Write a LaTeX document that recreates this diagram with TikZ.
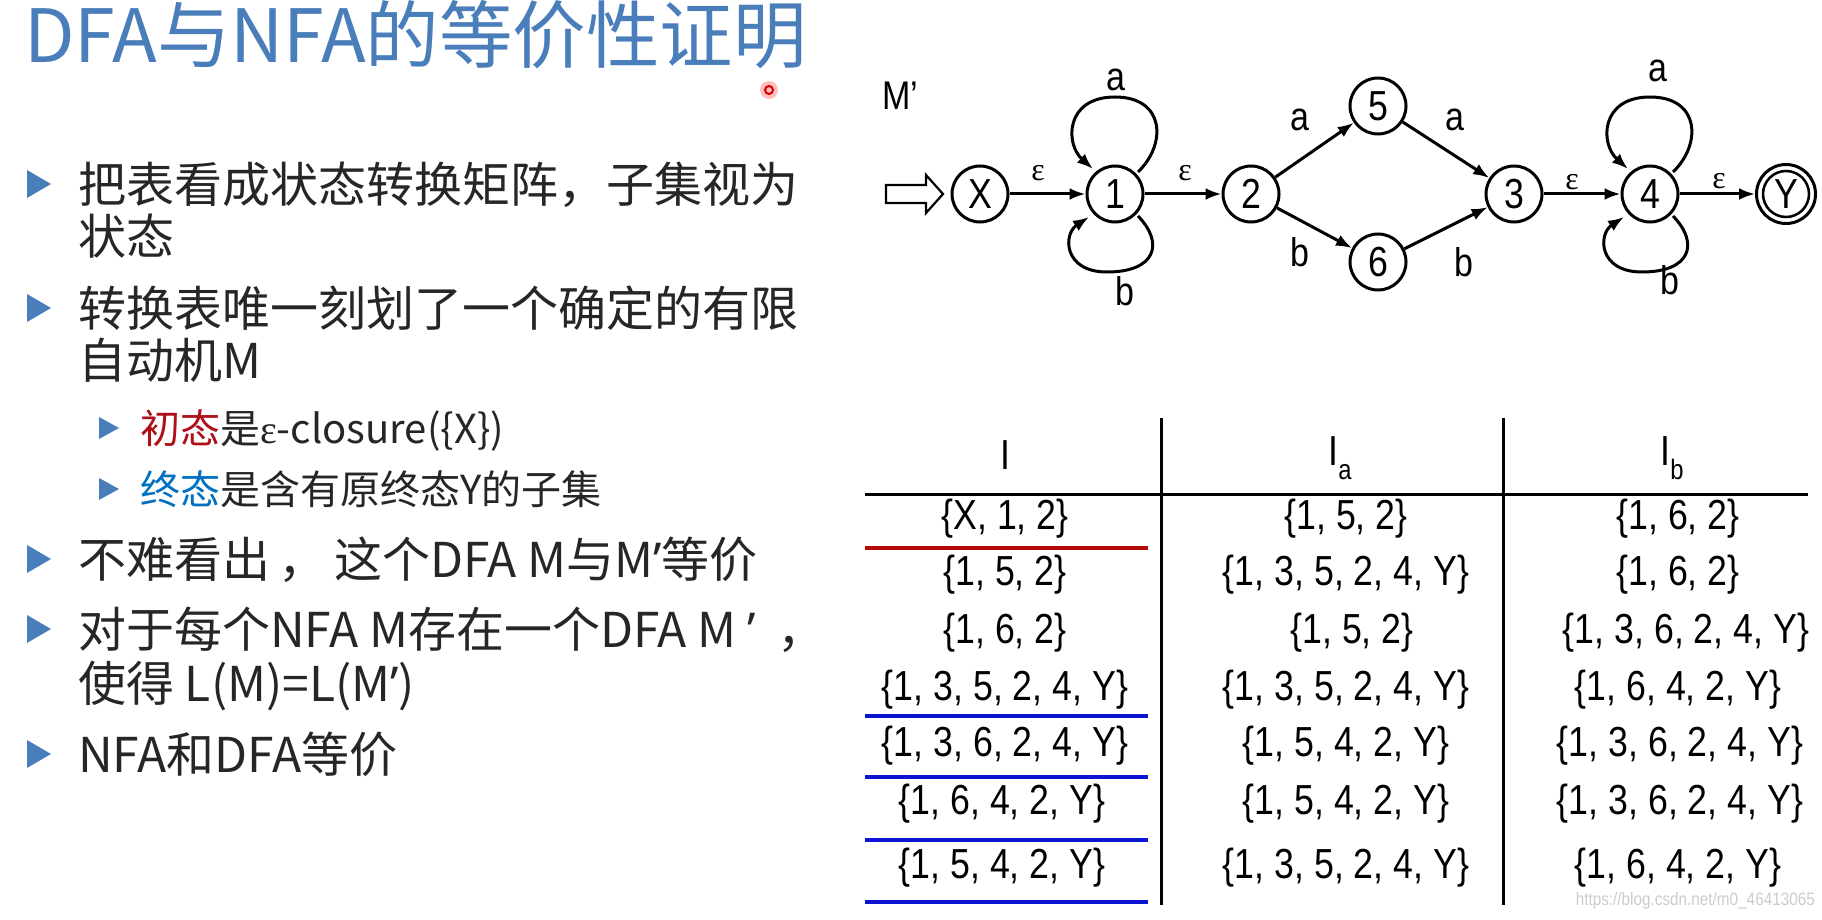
\documentclass[tikz,border=0pt]{standalone}
\usepackage{fontspec}
\setmainfont{Noto Sans CJK SC}
\newfontfamily\latinfont{Noto Sans}
\newfontfamily\narrowfont[FakeStretch=0.85]{Liberation Sans}
\newfontfamily\grkfont{Liberation Serif}
\usetikzlibrary{arrows.meta,calc}
\definecolor{titleblue}{RGB}{74,126,187}
\definecolor{bulletblue}{RGB}{74,126,187}
\definecolor{textgray}{RGB}{38,38,38}
\definecolor{initred}{RGB}{175,15,25}
\definecolor{finalblue}{RGB}{0,112,192}
\definecolor{tabred}{RGB}{180,10,10}
\definecolor{tabblue}{RGB}{10,20,210}
\newcommand{\apos}{{\latinfont ’}}
\begin{document}
\begin{tikzpicture}[x=1pt,y=-1pt,
  txt/.style={font=\fontsize{48}{52}\selectfont, text=textgray, inner sep=0pt, anchor=base west},
  subtxt/.style={font=\fontsize{40}{44}\selectfont, text=textgray, inner sep=0pt, anchor=base west},
  state/.style={circle, draw, line width=3pt, minimum size=56pt, inner sep=0pt, font=\narrowfont\fontsize{42}{42}\selectfont},
  edge/.style={line width=3pt, -{Latex[length=16pt,width=12pt]}},
  lbl/.style={inner sep=0pt, font=\narrowfont\fontsize{40}{40}\selectfont},
  eps/.style={inner sep=0pt, font=\grkfont\fontsize{32}{32}\selectfont},
  cell/.style={inner sep=0pt, font=\narrowfont\fontsize{42}{42}\selectfont},
  tline/.style={line width=3pt},
  cline/.style={line width=4.5pt}
]
\useasboundingbox (0,0) rectangle (1822,920);
\fill[white] (0,0) rectangle (1822,920);

% title
\node[inner sep=0pt, anchor=base west, text=titleblue, font=\fontsize{73.5}{76}\selectfont] (title) at (24,63) {DFA与NFA的等价性证明};
% pointer dot
\fill[red!25] (769,90) circle (9pt);
\draw[red!85!black, line width=2pt] (769,90) circle (4pt);

% bullets
\foreach \c in {184,308,559,629,754} {
  \fill[bulletblue] (27,\c-14) -- (51,\c) -- (27,\c+14) -- cycle;
}
\foreach \c in {428,489} {
  \fill[bulletblue] (99,\c-11) -- (119,\c) -- (99,\c+11) -- cycle;
}
\node[txt] (b1a) at (78,202) {把表看成状态转换矩阵，子集视为};
\node[txt] (b1b) at (78,254) {状态};
\node[txt] (b2a) at (78,326) {转换表唯一刻划了一个确定的有限};
\node[txt] (b2b) at (78,378) {自动机M};
\node[subtxt] (s1) at (140,443) {{\color{initred}初态}是{\grkfont ε}-closure(\{X\})};
\node[subtxt] (s2) at (140,504) {{\color{finalblue}终态}是含有原终态Y的子集};
\node[txt] (b3) at (78,577) {不难看出\,，\,这个DFA M与M\apos 等价};
\node[txt] (b4a) at (78,647) {对于每个NFA M存在一个DFA M \apos\ \ ，};
\node[txt] (b4b) at (78,701) {使得 L(M)=L(M\apos)};
\node[txt] (b5) at (78,772) {NFA和DFA等价};

% automaton
\node[inner sep=0pt, font=\narrowfont\fontsize{40}{40}\selectfont] (Mp) at (900,96) {M’};
\draw[line width=2.2pt, line join=miter] (886,185) -- (926,185) -- (926,175) -- (943,194) -- (926,213) -- (926,203) -- (886,203) -- cycle;
\node[state] (X) at (980,194) {X};
\node[state] (n1) at (1115,194) {1};
\node[state] (n2) at (1251,194) {2};
\node[state] (n5) at (1378,106) {5};
\node[state] (n6) at (1378,262) {6};
\node[state] (n3) at (1514,194) {3};
\node[state] (n4) at (1650,194) {4};
\node[state, minimum size=59pt] (Y) at (1786,194) {Y};
\draw[line width=2.5pt] (1786,194) circle (23pt);

\draw[edge] (X) -- (n1);
\draw[edge] (n1) -- (n2);
\draw[edge] (n2) -- (n5);
\draw[edge] (n2) -- (n6);
\draw[edge] (n5) -- (n3);
\draw[edge] (n6) -- (n3);
\draw[edge] (n3) -- (n4);
\draw[edge] (n4) -- (Y);

\foreach \n in {n1,n4} {
  \draw[edge] ($(\n)+(23,-22)$) .. controls ($(\n)+(52,-50)$) and ($(\n)+(50,-97)$) .. ($(\n)+(0,-97)$)
     .. controls ($(\n)+(-50,-97)$) and ($(\n)+(-50,-50)$) .. ($(\n)+(-22,-25)$);
  \draw[edge] ($(\n)+(23,22)$) .. controls ($(\n)+(50,50)$) and ($(\n)+(40,78)$) .. ($(\n)+(-8,78)$)
     .. controls ($(\n)+(-52,78)$) and ($(\n)+(-52,40)$) .. ($(\n)+(-26,23)$);
}

\node[eps] (e1) at (1038,173) {ε};
\node[eps] (e2) at (1185,173) {ε};
\node[eps] (e3) at (1572,182) {ε};
\node[eps] (e4) at (1719,181) {ε};
\node[lbl] (l25) at (1300,120) {a};
\node[lbl] (l53) at (1455,120) {a};
\node[lbl] (l26) at (1300,252) {b};
\node[lbl] (l63) at (1464,262) {b};
\node[lbl] (l1a) at (1116,80) {a};
\node[lbl] (l1b) at (1125,291) {b};
\node[lbl] (l4a) at (1658,71) {a};
\node[lbl] (l4b) at (1670,280) {b};

% table
\draw[tline] (1161,418) -- (1161,905);
\draw[tline] (1503,418) -- (1503,905);
\draw[tline] (865,494) -- (1808,494);
\draw[cline, tabred] (865,548) -- (1148,548);
\foreach \yy in {716,777,840,902} { \draw[cline, tabblue] (865,\yy) -- (1148,\yy); }

\node[cell] (h1) at (1005,455) {I};
\node[cell] (h2) at (1340,458) {I\raisebox{-14pt}{\fontsize{28}{28}\selectfont a}};
\node[cell] (h3) at (1672,458) {I\raisebox{-14pt}{\fontsize{28}{28}\selectfont b}};

\node[cell] (r1a) at (1005,519) {\{X, 1, 2\}};
\node[cell] (r1b) at (1346,519) {\{1, 5, 2\}};
\node[cell] (r1c) at (1678,519) {\{1, 6, 2\}};
\node[cell] (r2a) at (1005,575) {\{1, 5, 2\}};
\node[cell] (r2b) at (1346,575) {\{1, 3, 5, 2, 4, Y\}};
\node[cell] (r2c) at (1678,575) {\{1, 6, 2\}};
\node[cell] (r3a) at (1005,633) {\{1, 6, 2\}};
\node[cell] (r3b) at (1352,633) {\{1, 5, 2\}};
\node[cell] (r3c) at (1686,633) {\{1, 3, 6, 2, 4, Y\}};
\node[cell] (r4a) at (1005,690) {\{1, 3, 5, 2, 4, Y\}};
\node[cell] (r4b) at (1346,690) {\{1, 3, 5, 2, 4, Y\}};
\node[cell] (r4c) at (1678,690) {\{1, 6, 4, 2, Y\}};
\node[cell] (r5a) at (1005,746) {\{1, 3, 6, 2, 4, Y\}};
\node[cell] (r5b) at (1346,746) {\{1, 5, 4, 2, Y\}};
\node[cell] (r5c) at (1680,746) {\{1, 3, 6, 2, 4, Y\}};
\node[cell] (r6a) at (1002,804) {\{1, 6, 4, 2, Y\}};
\node[cell] (r6b) at (1346,804) {\{1, 5, 4, 2, Y\}};
\node[cell] (r6c) at (1680,804) {\{1, 3, 6, 2, 4, Y\}};
\node[cell] (r7a) at (1002,868) {\{1, 5, 4, 2, Y\}};
\node[cell] (r7b) at (1346,868) {\{1, 3, 5, 2, 4, Y\}};
\node[cell] (r7c) at (1678,868) {\{1, 6, 4, 2, Y\}};

\node[anchor=east, inner sep=0pt, text=black!20, font=\narrowfont\fontsize{18}{18}\selectfont] (wm) at (1815,901) {https://blog.csdn.net/m0\_46413065};
\end{tikzpicture}
\end{document}
